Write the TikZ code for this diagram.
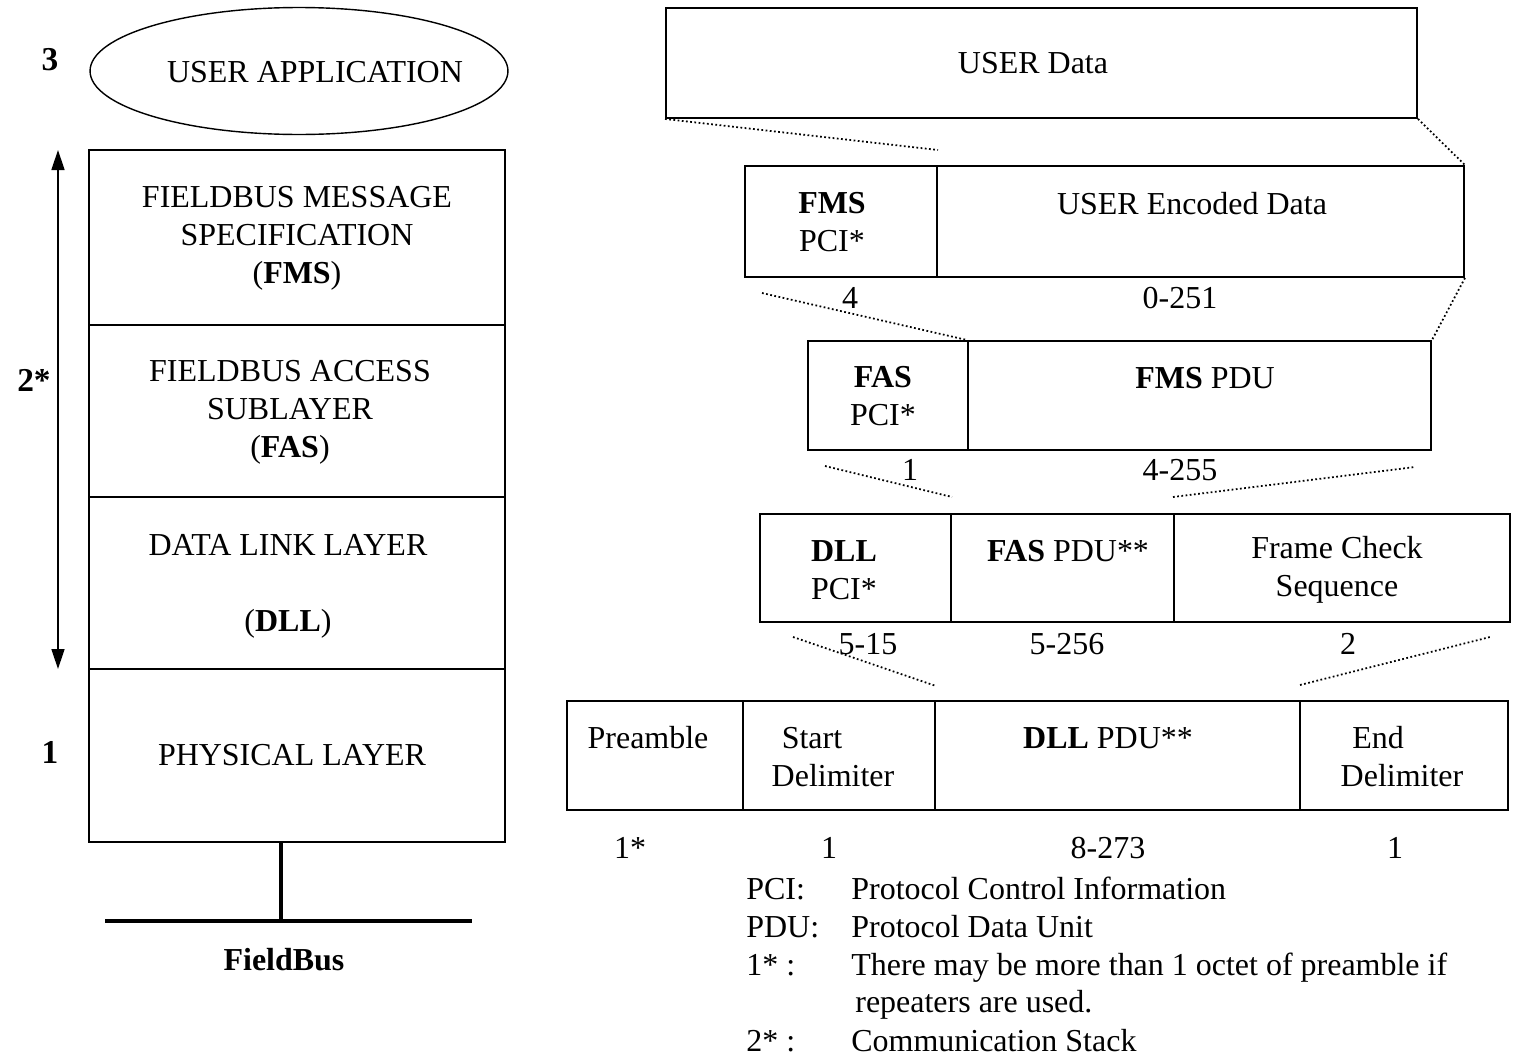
\documentclass[tikz,border=0pt]{standalone}
\usepackage{fontspec}
\setmainfont{Liberation Serif}
\usetikzlibrary{positioning, arrows.meta, shapes.geometric, fit}

\begin{document}
\begin{tikzpicture}[x=0.02cm, y=-0.02cm,
    cell/.style={draw, line width=1.1pt, inner sep=0pt},
    txt/.style={inner sep=0pt, align=center, font=\fontsize{18.2}{21.6}\selectfont},
    lbl/.style={inner sep=0pt, anchor=west, text height=12.5pt, text depth=4pt, font=\fontsize{18.2}{21.6}\selectfont},
    num/.style={inner sep=0pt, font=\fontsize{19}{22}\selectfont\bfseries},
    dots/.style={line width=1pt, dash pattern=on 1pt off 1.4pt},
    updown/.style={{Triangle[length=4mm,width=2.6mm]}-{Triangle[length=4mm,width=2.6mm]}, line width=0.8pt},
    bus/.style={line width=2.6pt}]
  \useasboundingbox (0,0) rectangle (1516,1062);

  \node[draw, ellipse, line width=0.8pt, minimum width=8.36cm, minimum height=2.54cm] (uapp) at (299,71) {};
  \node[txt] (uappt) at (315,72) {USER APPLICATION};
  \node[num] (n3) at (50,60) {3};
  \node[num] (n2) at (34,380) {2*};
  \node[num] (n1) at (50,752) {1};

  \node[cell, fit={(89,150) (505,325)}] (fms) {};
  \node[cell, fit={(89,325) (505,497)}] (fas) {};
  \node[cell, fit={(89,497) (505,669)}] (dll) {};
  \node[cell, fit={(89,669) (505,842)}] (phy) {};
  \node[txt] (fmst) at (297,238) {FIELDBUS MESSAGE\\SPECIFICATION\\(\textbf{FMS})};
  \node[txt] (fast) at (290,412) {FIELDBUS ACCESS\\SUBLAYER\\(\textbf{FAS})};
  \node[txt] (dllt) at (288,586) {DATA LINK LAYER\\[0.76cm](\textbf{DLL})};
  \node[txt] (phyt) at (292,755) {PHYSICAL LAYER};

  \coordinate (atop) at (58,150);
  \coordinate (abot) at (58,669);
  \draw[updown] (atop) -- (abot);

  \coordinate (busl) at (105,921);
  \coordinate (busr) at (472,921);
  \draw[bus] (busl) -- (busr);
  \draw[line width=2.2pt] ([xshift=-0.32cm]phy.south) -- ([xshift=-0.32cm]phy.south |- busl);
  \node[txt, font=\fontsize{18.2}{21.6}\selectfont\bfseries] (fbus) at (284,960) {FieldBus};

  \node[cell, fit={(666,8) (1417,118)}] (udata) {};
  \node[txt] (udatat) at (1033,63) {USER Data};

  \node[cell, fit={(745,166) (937,277)}] (fmspci) {};
  \node[cell, fit={(937,166) (1464,277)}] (fmsdata) {};
  \node[txt] (fmspcit) at (832,222) {\textbf{FMS}\\PCI*};
  \node[txt] (fmsdatat) at (1192,204) {USER Encoded Data};
  \node[txt] (l4) at (850,298) {4};
  \node[txt] (l0251) at (1180,298) {0-251};

  \node[cell, fit={(808,341) (968,450)}] (faspci) {};
  \node[cell, fit={(968,341) (1431,450)}] (fasdata) {};
  \node[txt] (faspcit) at (883,396) {\textbf{FAS}\\PCI*};
  \node[txt] (fasdatat) at (1205,378) {\textbf{FMS} PDU};
  \node[txt] (l1a) at (910,470) {1};
  \node[txt] (l4255) at (1180,470) {4-255};

  \node[cell, fit={(760,514) (951,622)}] (dllpci) {};
  \node[cell, fit={(951,514) (1174,622)}] (dllfas) {};
  \node[cell, fit={(1174,514) (1510,622)}] (dllfcs) {};
  \node[txt] (dllpcit) at (844,570) {\textbf{DLL}\\PCI*};
  \node[txt] (dllfast) at (1068,551) {\textbf{FAS} PDU**};
  \node[txt] (dllfcst) at (1337,570) {Frame Check\\Sequence};
  \node[txt] (l515) at (868,644) {5-15};
  \node[txt] (l5256) at (1067,644) {5-256};
  \node[txt] (l2) at (1348,644) {2};

  \node[cell, fit={(567,701) (743,810)}] (pre) {};
  \node[cell, fit={(743,701) (935,810)}] (sdel) {};
  \node[cell, fit={(935,701) (1300,810)}] (dllpdu) {};
  \node[cell, fit={(1300,701) (1508,810)}] (edel) {};
  \node[txt] (pret) at (648,738) {Preamble};
  \node[txt] (sdelt) at (833,757) {Start\rule{0.84cm}{0pt}\\Delimiter};
  \node[txt] (dllpdut) at (1108,738) {\textbf{DLL} PDU**};
  \node[txt] (edelt) at (1402,757) {End\rule{0.96cm}{0pt}\\Delimiter};
  \node[txt] (l1s) at (630,848) {1*};
  \node[txt] (l1b) at (829,848) {1};
  \node[txt] (l8273) at (1108,848) {8-273};
  \node[txt] (l1c) at (1395,848) {1};

  \node[lbl] (kpci) at (746,892) {PCI:};
  \node[lbl] (kpdu) at (746,930) {PDU:};
  \node[lbl] (k1s) at (746,968) {1* :};
  \node[lbl] (k2s) at (746,1044) {2* :};
  \node[lbl] (vpci) at (851,892) {Protocol Control Information};
  \node[lbl] (vpdu) at (851,930) {Protocol Data Unit};
  \node[lbl] (v1s) at (851,968) {There may be more than 1 octet of preamble if};
  \node[lbl] (v1sb) at (855,1005) {repeaters are used.};
  \node[lbl] (v2s) at (851,1044) {Communication Stack};

  \coordinate (c1) at (938,150);
  \coordinate (c2) at (762,293);
  \coordinate (c3) at (825,466);
  \coordinate (c4) at (952,497);
  \coordinate (c5) at (1173,497);
  \coordinate (c6) at (1415,467);
  \coordinate (c7) at (793,637);
  \coordinate (c8) at (936,686);
  \coordinate (c9) at (1300,685);
  \coordinate (c10) at (1490,637);
  \draw[dots] (udata.south west) -- (c1);
  \draw[dots] (udata.south east) -- (fmsdata.north east);
  \draw[dots] (c2) -- (fasdata.north west);
  \draw[dots] (fmsdata.south east) -- (fasdata.north east);
  \draw[dots] (c3) -- (c4);
  \draw[dots] (c5) -- (c6);
  \draw[dots] (c7) -- (c8);
  \draw[dots] (c9) -- (c10);
\end{tikzpicture}
\end{document}
